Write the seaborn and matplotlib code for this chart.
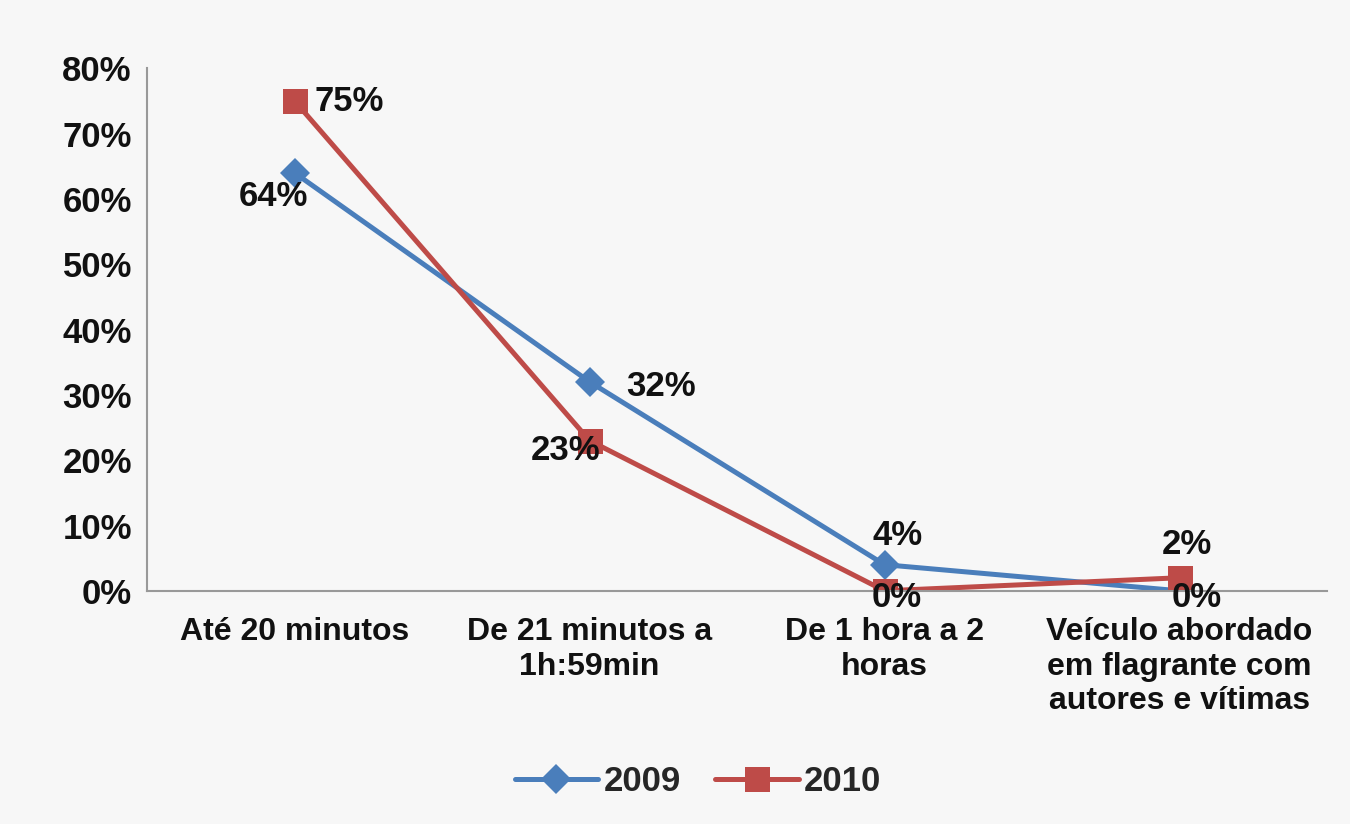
import numpy as np
import pandas as pd
import seaborn as sns
import matplotlib.pyplot as plt
from matplotlib.ticker import PercentFormatter

categories = [
    "Até 20 minutos",
    "De 21 minutos a\n1h:59min",
    "De 1 hora a 2\nhoras",
    "Veículo abordado\nem flagrante com\nautores e vítimas",
]
years = ["2009", "2010"]
values_2009 = [0.64, 0.32, 0.04, 0.00]
values_2010 = [0.75, 0.23, 0.00, 0.02]

sns.set_theme(style="white")
plt.rcParams["font.family"] = ["Liberation Sans", "DejaVu Sans"]
plt.rcParams["font.weight"] = "bold"

df = pd.DataFrame({
    "pos": list(range(len(categories))) * 2,
    "valor": values_2009 + values_2010,
    "ano": [years[0]] * 4 + [years[1]] * 4,
})

bg = "#f7f7f7"
fig = plt.figure(figsize=(13.5, 8.24), dpi=100, facecolor=bg)
ax = fig.add_axes([0.109, 0.283, 0.874, 0.634], facecolor=bg)

palette = {"2009": "#4a7ebb", "2010": "#be4b48"}
markers = {"2009": "D", "2010": "s"}
sizes = {"2009": 15, "2010": 18}

for year in years:
    sub = df[df["ano"] == year]
    sns.lineplot(
        data=sub, x="pos", y="valor", color=palette[year], marker=markers[year],
        markersize=sizes[year], markeredgewidth=0, linewidth=3.6, label=year, ax=ax,
    )

# data labels: (dx, dy) offsets in points
offsets_2009 = [(-15, -17, "center"), (26, -3, "left"), (9, 21, "center"), (12, -5, "center")]
offsets_2010 = [(14, 0, "left"), (-17, -7, "center"), (9, -5, "center"), (5, 24, "center")]
for vals, offs in [(values_2009, offsets_2009), (values_2010, offsets_2010)]:
    for i, (v, (dx, dy, ha)) in enumerate(zip(vals, offs)):
        ax.annotate(f"{v:.0%}", (i, v), xytext=(dx, dy), textcoords="offset points",
                    ha=ha, va="center", fontsize=25, fontweight="bold", color="#111111")

ax.set_xlim(-0.5, 3.5)
ax.set_ylim(0, 0.8)
ax.set_yticks(np.arange(0, 0.81, 0.1))
ax.yaxis.set_major_formatter(PercentFormatter(1.0, decimals=0))
ax.set_xticks(range(len(categories)))
ax.set_xticklabels(categories, fontsize=23, fontweight="bold", linespacing=1.2)
ax.set_xticks(np.arange(-0.5, 3.6, 1), minor=True)
ax.tick_params(axis="x", which="major", length=0, pad=19, colors="#111111")
ax.tick_params(axis="x", which="minor", length=7, width=1.2, color="#999999", direction="out")
ax.tick_params(axis="y", length=7, width=1.2, color="#999999", direction="out",
               labelsize=25, pad=4, labelcolor="#111111")
for lbl in ax.get_yticklabels():
    lbl.set_fontweight("bold")
ax.set_xlabel("")
ax.set_ylabel("")

for side in ["top", "right"]:
    ax.spines[side].set_visible(False)
for side in ["left", "bottom"]:
    ax.spines[side].set_color("#999999")
    ax.spines[side].set_linewidth(1.5)

handles, labels = ax.get_legend_handles_labels()
ax.get_legend().remove()
leg = fig.legend(handles, labels, loc="center", bbox_to_anchor=(0.517, 0.051), ncol=2,
                 frameon=False, fontsize=25, handlelength=2.4, columnspacing=1.0,
                 handletextpad=0.15)
for t in leg.get_texts():
    t.set_fontweight("bold")

fig.savefig("out.png", dpi=100, facecolor=bg)
